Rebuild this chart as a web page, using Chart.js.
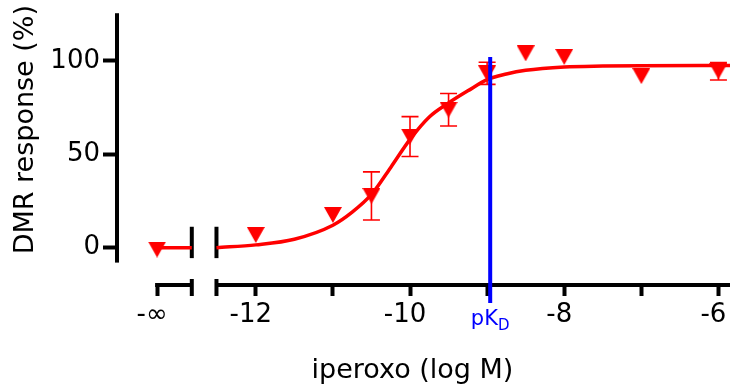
<!DOCTYPE html>
<html><head><meta charset="utf-8">
<script src="https://cdn.jsdelivr.net/npm/chart.js@4/dist/chart.umd.min.js"></script>
<style>html,body{margin:0;padding:0;background:#fff}</style>
</head><body>
<canvas id="c" width="732" height="386"></canvas>
<script>
// ---- data ----
const logConc   = [-Infinity, -12, -11, -10.5, -10, -9.5, -9, -8.5, -8, -7, -6];
const response  = [-1, 6.8, 17.5, 27.7, 59.5, 73.9, 93.4, 104.1, 102.2, 91.9, 94.5];
const sem       = [0, 0, 0, 12.9, 10.7, 8.7, 5.9, 0, 0, 0, 4.7];
const curveLogConc  = [-12.51, -12, -11.5, -11, -10.75, -10.5, -10.25, -10, -9.75, -9.5, -9.25, -9, -8.75, -8.5, -8, -7.5, -7, -6, -5.85];
const curveResponse = [0, 1.5, 4.5, 12, 19, 28.5, 43, 58, 70, 77.5, 84, 90, 93, 95, 96.8, 97.3, 97.5, 97.6, 97.6];
const negInfCurveResponse = 0;
const pKD = -8.96;
const xTickValues = [-Infinity, -12, -11, -10, -9, -8, -7, -6];
const xTickLabels = ['-\u221E', '-12', '', '-10', '', '-8', '', '-6'];
const yTickValues = [0, 50, 100];

// ---- axis geometry ----
const NEG_INF_POS = -13.28;   // where -∞ sits on the broken axis
const BREAK_L = -12.83, BREAK_R = -12.51;
const X_MIN = -13.8, X_MAX = -5.85, Y_MIN = -20, Y_MAX = 130;
const Y_AXIS_RANGE = [-8, 125.6];
const BREAK_MARK_RANGE = [-5.6, 11.2];
const PKD_LINE_RANGE = [-29.6, 102.2];
const xPos = v => (v === -Infinity ? NEG_INF_POS : v);

const RED = '#ff0000', BLUE = '#0000ff', FONT = 'DejaVu Sans';
Chart.defaults.font.family = FONT;

function makeTriangle(w, h, color) {
  const c = document.createElement('canvas');
  c.width = w; c.height = h;
  const g = c.getContext('2d');
  g.fillStyle = color; g.beginPath();
  g.moveTo(0, 0); g.lineTo(w, 0); g.lineTo(w / 2, h); g.closePath(); g.fill();
  return c;
}
const triDown = makeTriangle(18, 16, RED);

const decor = {
  id: 'decor',
  beforeDatasetsDraw(chart) {
    const {ctx, chartArea: a, scales: {x, y}} = chart;
    ctx.save();
    ctx.strokeStyle = '#000'; ctx.lineCap = 'butt';
    // y axis line
    ctx.lineWidth = 4;
    ctx.beginPath();
    ctx.moveTo(a.left, y.getPixelForValue(Y_AXIS_RANGE[1]));
    ctx.lineTo(a.left, y.getPixelForValue(Y_AXIS_RANGE[0]));
    ctx.stroke();
    // broken x axis
    const yb = a.bottom;
    ctx.beginPath();
    ctx.moveTo(x.getPixelForValue(NEG_INF_POS) - 2, yb); ctx.lineTo(x.getPixelForValue(BREAK_L), yb);
    ctx.moveTo(x.getPixelForValue(BREAK_R), yb); ctx.lineTo(x.getPixelForValue(X_MAX), yb);
    ctx.stroke();
    [BREAK_L, BREAK_R].forEach(v => {
      const px = x.getPixelForValue(v);
      ctx.beginPath(); ctx.moveTo(px, yb - 6); ctx.lineTo(px, yb + 11); ctx.stroke();
      // break marks at the curve
      ctx.beginPath();
      ctx.moveTo(px, y.getPixelForValue(BREAK_MARK_RANGE[1]));
      ctx.lineTo(px, y.getPixelForValue(BREAK_MARK_RANGE[0]));
      ctx.stroke();
    });
    // error bars
    ctx.strokeStyle = RED; ctx.lineWidth = 1.6;
    logConc.forEach((v, i) => {
      if (!sem[i]) return;
      const px = x.getPixelForValue(xPos(v));
      const t = y.getPixelForValue(response[i] + sem[i]);
      const b = y.getPixelForValue(response[i] - sem[i]);
      ctx.beginPath();
      ctx.moveTo(px, t); ctx.lineTo(px, b);
      ctx.moveTo(px - 8.5, t); ctx.lineTo(px + 8.5, t);
      ctx.moveTo(px - 8.5, b); ctx.lineTo(px + 8.5, b);
      ctx.stroke();
    });
    ctx.restore();
  },
  afterDatasetsDraw(chart) {
    const {ctx, chartArea: a, scales: {x, y}} = chart;
    ctx.save();
    const px = x.getPixelForValue(pKD);
    ctx.strokeStyle = BLUE; ctx.lineWidth = 4;
    ctx.beginPath();
    ctx.moveTo(px, y.getPixelForValue(PKD_LINE_RANGE[1]));
    ctx.lineTo(px, y.getPixelForValue(PKD_LINE_RANGE[0]));
    ctx.stroke();
    // pK_D label
    ctx.fillStyle = BLUE; ctx.textBaseline = 'alphabetic'; ctx.textAlign = 'left';
    ctx.font = '21px "' + FONT + '"';
    const w1 = ctx.measureText('pK').width;
    ctx.font = '15px "' + FONT + '"';
    const w2 = ctx.measureText('D').width;
    const start = px - (w1 + w2) / 2;
    ctx.font = '21px "' + FONT + '"';
    ctx.fillText('pK', start, a.bottom + 40);
    ctx.font = '15px "' + FONT + '"';
    ctx.fillText('D', start + w1, a.bottom + 45);
    // x axis title
    ctx.fillStyle = '#000'; ctx.textAlign = 'center';
    ctx.font = '27px "' + FONT + '"';
    ctx.fillText('iperoxo (log M)', (a.left + a.right) / 2 - 11, a.bottom + 93);
    ctx.restore();
  }
};

new Chart(document.getElementById('c'), {
  type: 'line',
  data: {
    datasets: [
      {
        type: 'scatter', label: 'iperoxo',
        data: logConc.map((v, i) => ({x: xPos(v), y: response[i]})),
        pointStyle: triDown, pointRadius: 9, pointHoverRadius: 9,
        backgroundColor: RED, borderColor: RED, showLine: false, order: 0
      },
      {
        type: 'line', label: 'fit',
        data: curveLogConc.map((v, i) => ({x: v, y: curveResponse[i]})),
        borderColor: RED, borderWidth: 3.5, pointRadius: 0, fill: false,
        cubicInterpolationMode: 'monotone', order: 1
      },
      {
        type: 'line', label: 'fit -inf',
        data: [{x: NEG_INF_POS, y: negInfCurveResponse}, {x: BREAK_L, y: negInfCurveResponse}],
        borderColor: RED, borderWidth: 3.5, pointRadius: 0, fill: false, order: 1
      }
    ]
  },
  options: {
    responsive: false, animation: false, devicePixelRatio: 1,
    layout: {autoPadding: false, padding: {top: 5, right: 2, left: 0, bottom: 0}},
    plugins: {legend: {display: false}, tooltip: {enabled: false}},
    scales: {
      x: {
        type: 'linear', position: 'bottom', min: X_MIN, max: X_MAX,
        afterBuildTicks: s => { s.ticks = xTickValues.map(v => ({value: xPos(v)})); },
        afterFit: s => { s.height = 101; s.paddingLeft = 0; s.paddingRight = 0; },
        ticks: {
          callback: (v, i) => xTickLabels[i], autoSkip: false, maxRotation: 0,
          font: {size: 26}, color: '#000', padding: 4, labelOffset: -5
        },
        grid: {drawOnChartArea: false, drawTicks: true, tickLength: 11, tickWidth: 4, tickColor: '#000'},
        border: {display: false}
      },
      y: {
        type: 'linear', min: Y_MIN, max: Y_MAX,
        afterBuildTicks: s => { s.ticks = yTickValues.map(v => ({value: v})); },
        afterFit: s => { s.width = 117; s.paddingTop = 0; s.paddingBottom = 0; },
        ticks: {font: {size: 26}, color: '#000', padding: 3},
        grid: {drawOnChartArea: false, drawTicks: true, tickLength: 14, tickWidth: 4, tickColor: '#000'},
        border: {display: false},
        title: {display: true, text: 'DMR response (%)', align: 'end', color: '#000',
                font: {size: 27}, padding: {top: 10, bottom: 0}}
      }
    }
  },
  plugins: [decor]
});
</script>
</body></html>
